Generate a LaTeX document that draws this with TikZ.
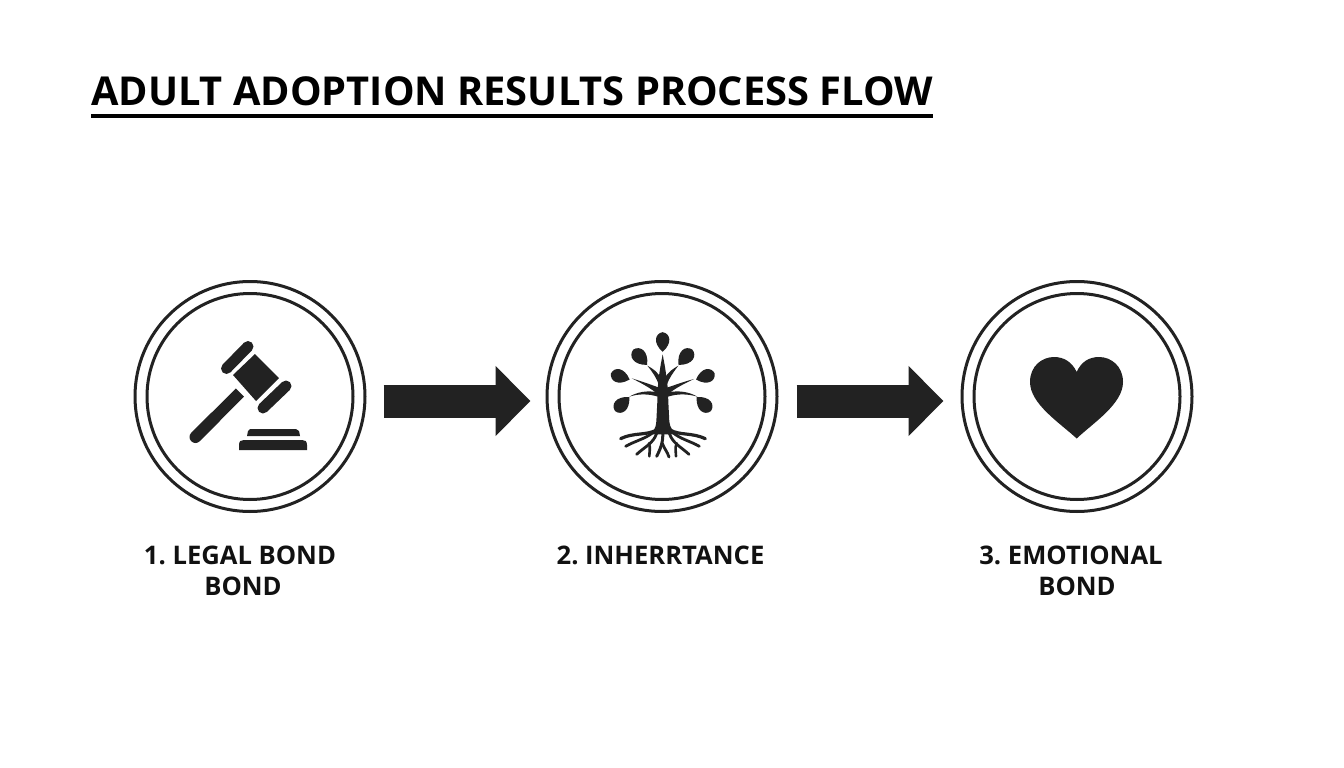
\documentclass[tikz,border=0pt]{standalone}
\usepackage{fontspec}
\setmainfont{Open Sans}
\usetikzlibrary{arrows.meta,calc}
\definecolor{ink}{HTML}{222222}
\definecolor{labelink}{HTML}{111111}
\frenchspacing
\tikzset{
  ring/.style={circle,draw=ink,line width=3pt,minimum size=#1,inner sep=0pt,fill=none},
  title/.style={font=\fontsize{39.8}{40}\selectfont\bfseries,text=black,inner sep=0pt,anchor=base west},
  lab/.style={font=\fontsize{25.6}{25.6}\selectfont\bfseries,text=labelink,inner sep=0pt,anchor=base},
  blockarrow/.style={draw=ink,line width=33pt,-{Triangle[length=35pt,width=68pt]},color=ink},
  root/.style={draw=ink,line cap=round,line join=round,fill=none},
}
\newcommand{\leaf}[4]{% x y angle scale (zoom coords); pointed tip on the +x side
  \fill[ink,shift={(#1,#2)},rotate=#3,scale=#4] (-30,0) .. controls (-26,-24) and (4,-32) .. (32,0) .. controls (4,32) and (-26,24) .. (-30,0) -- cycle;}
\begin{document}
\frenchspacing
\begin{tikzpicture}[x=1pt,y=-1pt]
\useasboundingbox[fill=white] (0,0) rectangle (1344,768);
% title
\node[title] (ttl) at (91,105) {ADULT ADOPTION RESULTS PROCESS FLOW};
\draw[black,line width=4pt] (ttl.west |- 0,116) coordinate (u1) -- (ttl.east |- 0,116) coordinate (u2);
% circles
\node[ring=230pt] (c1) at (250,396.5) {};
\node[ring=206pt] (c1i) at (250,396.5) {};
\node[ring=230pt] (c2) at (662,396.5) {};
\node[ring=206pt] (c2i) at (662,396.5) {};
\node[ring=230pt] (c3) at (1077,396.5) {};
\node[ring=206pt] (c3i) at (1077,396.5) {};
% arrows
\draw[blockarrow,shorten <=17pt,shorten >=15pt] ([yshift=-4.5pt]c1.east) -- ([yshift=-4.5pt]c2.west);
\draw[blockarrow,shorten <=18pt,shorten >=17pt] ([yshift=-4.5pt]c2.east) -- ([yshift=-4.5pt]c3.west);
% gavel
\fill[ink] (255,354) -- (279,378) -- (256,401) -- (233,375) -- cycle;
\draw[ink,line width=11pt,line cap=round] (226.5,368.5) -- (248,346.5);
\draw[ink,line width=11pt,line cap=round] (263,408) -- (286,386);
\draw[ink,line width=12pt,line cap=round] (195.5,437) -- (215,417.5);
\draw[ink,line width=11.5pt] (195.5,437) -- (240,392.5);
\fill[ink] (247,436) -- (248,431) .. controls (248.5,429.5) .. (250,429) -- (296,429) .. controls (298,429.5) .. (299,431) -- (300,436) -- cycle;
\fill[ink] (239,450) -- (239,445) .. controls (239,441) and (241,440) .. (244,440) -- (302,440) .. controls (305,440) and (307,441) .. (307,445) -- (307,450) -- cycle;
% tree
\begin{scope}[shift={(590,315)},x=0.3333pt,y=-0.3333pt]
\leaf{218}{80}{-90}{0.95}
\leaf{150}{126}{-48}{1.0}
\leaf{287}{126}{228}{1.0}
\leaf{90}{184}{-18}{0.95}
\leaf{347}{184}{198}{0.95}
\leaf{96}{268}{45}{0.97}
\leaf{342}{268}{135}{0.97}
\fill[ink] (218,118) -- (224,150) -- (229,182) .. controls (232,200) and (234,225) .. (235,260) -- (238,320) .. controls (240,340) and (250,350) .. (262,358) -- (178,358) .. controls (190,350) and (198,340) .. (199,320) -- (202,260) .. controls (203,225) and (204,200) .. (207,182) -- (212,150) -- cycle;
\fill[ink] (172,152) .. controls (190,162) and (205,172) .. (212,190) -- (207,212) .. controls (200,188) and (188,172) .. (172,152) -- cycle;
\fill[ink] (265,152) .. controls (248,162) and (233,172) .. (224,190) -- (230,210) .. controls (238,188) and (250,172) .. (265,152) -- cycle;
\fill[ink] (125,190) .. controls (165,202) and (190,212) .. (208,218) -- (204,238) .. controls (185,222) and (160,207) .. (125,190) -- cycle;
\fill[ink] (312,192) .. controls (275,202) and (250,212) .. (230,218) -- (234,238) .. controls (252,222) and (280,207) .. (312,192) -- cycle;
\fill[ink] (118,245) .. controls (140,232) and (170,225) .. (204,232) -- (204,245) .. controls (175,236) and (145,236) .. (118,245) -- cycle;
\fill[ink] (322,245) .. controls (300,232) and (270,225) .. (234,232) -- (234,245) .. controls (262,236) and (292,236) .. (322,245) -- cycle;
\draw[root,line width=3.2pt] (200,345) .. controls (170,362) and (130,352) .. (92,371);
\draw[root,line width=3.2pt] (240,345) .. controls (270,362) and (305,352) .. (346,371);
\draw[root,line width=2.8pt] (190,352) .. controls (165,372) and (135,378) .. (107,394);
\draw[root,line width=2.8pt] (248,352) .. controls (270,372) and (300,378) .. (328,394);
\draw[root,line width=2.8pt] (200,355) .. controls (190,385) and (165,395) .. (140,418);
\draw[root,line width=2.8pt] (238,355) .. controls (248,385) and (272,395) .. (297,418);
\draw[root,line width=2.6pt] (177,385) .. controls (182,400) and (178,410) .. (178,424);
\draw[root,line width=2.6pt] (260,385) .. controls (254,400) and (258,410) .. (258,424);
\draw[root,line width=3pt] (218,350) .. controls (220,375) and (215,395) .. (200,424);
\draw[root,line width=2.8pt] (217,385) .. controls (222,400) and (232,410) .. (237,426);
\end{scope}
% heart
\fill[ink] (1076.7,438.5) .. controls (1060,423) and (1030,404) .. (1030,382) .. controls (1030,366) and (1042,357) .. (1054,357) .. controls (1064,357) and (1072,362) .. (1076.7,372) .. controls (1081,362) and (1089,357) .. (1099,357) .. controls (1111,357) and (1123,366) .. (1123,382) .. controls (1123,404) and (1093,423) .. (1076.7,438.5) -- cycle;
% labels
\node[lab] (l1a) at (240,564) {1. LEGAL BOND};
\node[lab] (l1b) at (243,595) {BOND};
\node[lab] (l2) at (660.5,564) {2. INHERRTANCE};
\node[lab] (l3a) at (1071,564) {3. EMOTIONAL};
\node[lab] (l3b) at (1077,595) {BOND};
\end{tikzpicture}
\end{document}
